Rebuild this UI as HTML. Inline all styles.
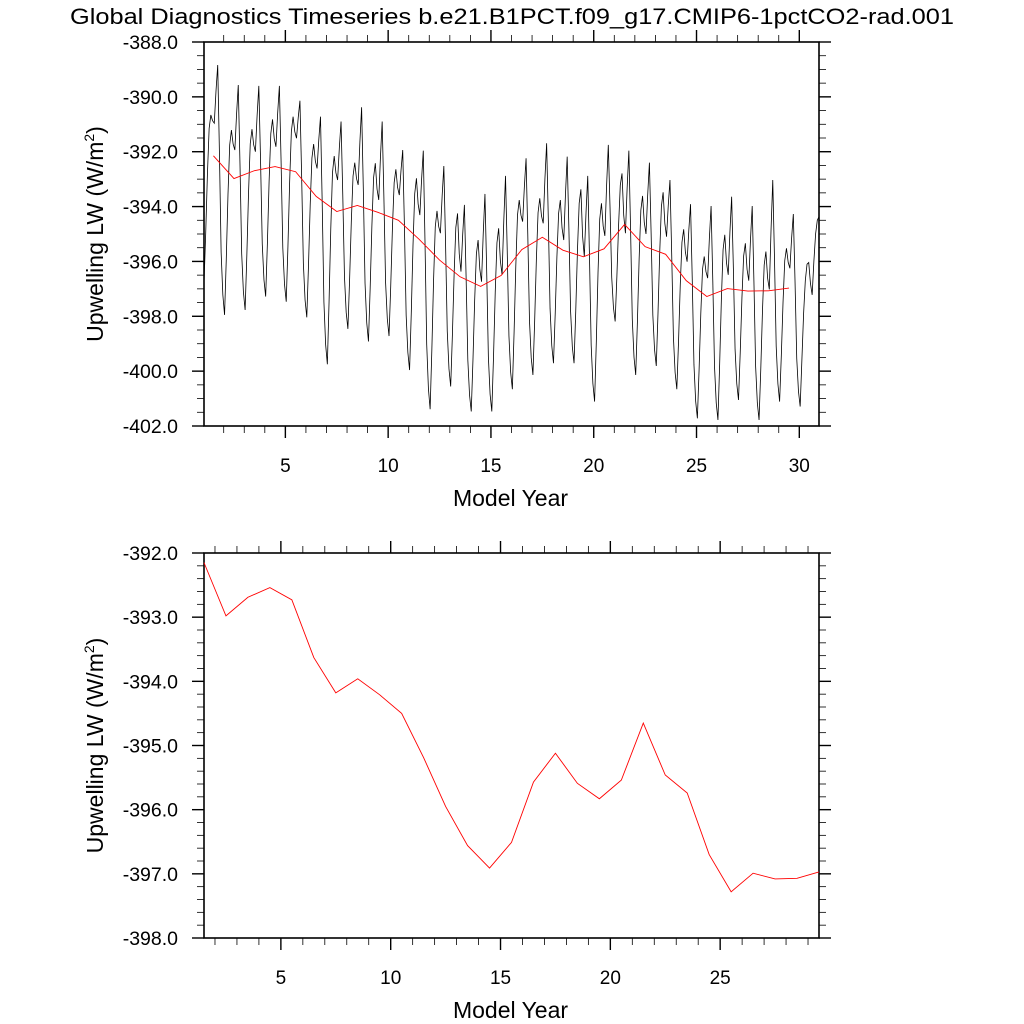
<!DOCTYPE html>
<html><head><meta charset="utf-8"><style>
html,body{margin:0;padding:0;background:#fff;}
svg{display:block;font-family:"Liberation Sans",sans-serif;}
</style></head><body>
<svg id="chart" width="1024" height="1024" viewBox="0 0 1024 1024" xmlns="http://www.w3.org/2000/svg">
<rect width="1024" height="1024" fill="#fff"/>
<text x="512" y="24" font-size="22" text-anchor="middle" textLength="884" lengthAdjust="spacingAndGlyphs">Global Diagnostics Timeseries b.e21.B1PCT.f09_g17.CMIP6-1pctCO2-rad.001</text>
<g id="top"></g>
<g id="bot"></g>
</svg>
<script>
// Monthly global-mean upwelling LW (W/m2), years 1..30
const monthlyLW = [
-396.80,-394.96,-392.81,-391.15,-390.66,-390.87,-390.96,-389.79,-388.84,-392.03,-395.67,-397.22,
-397.95,-395.93,-393.57,-391.75,-391.21,-391.72,-391.94,-390.64,-389.57,-392.44,-395.72,-397.11,
-397.77,-395.79,-393.49,-391.71,-391.18,-391.75,-392.00,-390.68,-389.60,-392.29,-395.36,-396.67,
-397.28,-395.34,-393.08,-391.34,-390.82,-391.52,-391.82,-390.60,-389.60,-392.36,-395.50,-396.84,
-397.47,-395.45,-393.08,-391.26,-390.72,-391.27,-391.51,-390.76,-390.14,-392.91,-396.07,-397.41,
-398.04,-396.14,-393.93,-392.23,-391.72,-392.34,-392.61,-391.57,-390.72,-393.88,-397.49,-399.03,
-399.75,-397.47,-394.82,-392.77,-392.16,-392.77,-393.03,-391.86,-390.90,-393.55,-396.57,-397.86,
-398.46,-396.64,-394.52,-392.89,-392.40,-392.97,-393.21,-391.65,-390.38,-393.37,-396.79,-398.24,
-398.92,-396.97,-394.70,-392.94,-392.42,-393.36,-393.76,-392.19,-390.90,-393.64,-396.77,-398.09,
-398.72,-396.90,-394.77,-393.13,-392.64,-393.30,-393.58,-392.68,-391.94,-394.75,-397.96,-399.32,
-399.96,-397.86,-395.42,-393.53,-392.97,-393.91,-394.31,-393.02,-391.96,-395.26,-399.03,-400.64,
-401.39,-399.22,-396.69,-394.74,-394.16,-394.73,-394.97,-393.62,-392.52,-395.33,-398.55,-399.92,
-400.56,-398.67,-396.46,-394.76,-394.25,-395.73,-396.37,-395.03,-393.94,-396.58,-399.59,-400.87,
-401.47,-399.60,-397.41,-395.72,-395.22,-396.28,-396.74,-394.98,-393.54,-396.32,-399.49,-400.84,
-401.47,-399.47,-397.13,-395.32,-394.79,-395.98,-396.49,-394.50,-392.88,-395.60,-398.72,-400.04,
-400.66,-398.59,-396.18,-394.31,-393.76,-394.31,-394.55,-393.28,-392.24,-395.01,-398.17,-399.51,
-400.14,-398.21,-395.95,-394.22,-393.70,-394.34,-394.61,-393.00,-391.69,-394.50,-397.71,-399.07,
-399.71,-397.93,-395.84,-394.24,-393.76,-394.78,-395.22,-393.55,-392.18,-394.82,-397.83,-399.11,
-399.71,-397.81,-395.59,-393.88,-393.37,-395.09,-395.83,-394.21,-392.88,-395.76,-399.05,-400.45,
-401.11,-398.94,-396.41,-394.46,-393.88,-394.71,-395.07,-393.24,-391.75,-394.00,-396.58,-397.68,
-398.19,-396.57,-394.68,-393.22,-392.79,-394.32,-394.97,-393.32,-391.96,-394.82,-398.10,-399.49,
-400.14,-398.18,-395.90,-394.13,-393.61,-394.58,-395.00,-393.57,-392.40,-394.99,-397.96,-399.22,
-399.81,-397.91,-395.70,-393.99,-393.48,-394.61,-395.10,-393.96,-393.03,-395.70,-398.75,-400.05,
-400.66,-398.91,-396.87,-395.30,-394.83,-395.66,-396.01,-394.86,-393.91,-396.64,-399.77,-401.10,
-401.72,-399.95,-397.89,-396.29,-395.82,-396.37,-396.61,-395.16,-393.98,-396.71,-399.83,-401.16,
-401.78,-399.76,-397.39,-395.57,-395.03,-396.05,-396.49,-394.92,-393.64,-396.23,-399.20,-400.46,
-401.05,-399.34,-397.34,-395.80,-395.34,-396.29,-396.70,-395.20,-393.98,-396.71,-399.83,-401.16,
-401.78,-399.94,-397.79,-396.13,-395.64,-396.61,-397.02,-394.83,-393.03,-395.86,-399.09,-400.46,
-401.11,-399.43,-397.48,-395.97,-395.52,-396.03,-396.25,-395.16,-394.27,-396.73,-399.54,-400.73,
-401.29,-399.60,-397.90,-396.70,-396.10,-396.04,-396.80,-397.22,-396.00,-395.00,-394.50,-394.37
];
// Annual means
const annualLW = [-392.15,-392.98,-392.69,-392.54,-392.73,-393.63,-394.18,-393.96,-394.21,-394.50,
-395.19,-395.95,-396.56,-396.91,-396.51,-395.57,-395.12,-395.59,-395.83,-395.54,
-394.65,-395.46,-395.74,-396.70,-397.28,-396.99,-397.08,-397.07,-396.97];
const xTickLabels = [5,10,15,20,25,30];
const topYTicks = [-388,-390,-392,-394,-396,-398,-400,-402];
const botYTicks = [-392,-393,-394,-395,-396,-397,-398];

const NS='http://www.w3.org/2000/svg';
function mk(parent, tag, attrs){const e=document.createElementNS(NS,tag);for(const k in attrs)e.setAttribute(k,attrs[k]);parent.appendChild(e);return e;}

function panel(g, cfg){
  const {x0,x1,y0,y1,xmin,xmax,ymin,ymax,yTicks,yMinor,xMaxLabel} = cfg;
  const sx = v => x0 + (v - xmin) / (xmax - xmin) * (x1 - x0);
  const sy = v => y1 - (v - ymin) / (ymax - ymin) * (y1 - y0);
  const ax = mk(g,'g',{stroke:'#000','stroke-width':1.2,fill:'none'});
  
  
  mk(ax,'rect',{x:x0,y:y0,width:x1-x0,height:y1-y0,'stroke-width':1.6});
  // x ticks
  for(let yr=Math.ceil(xmin); yr<=xmax; yr++){
    const X=sx(yr); const major = yr%5===0; const L = major?12:7;
    mk(ax,'line',{x1:X,x2:X,y1:y1,y2:y1+L,'stroke-width':major?1.4:0.8});
    mk(ax,'line',{x1:X,x2:X,y1:y0,y2:y0-L,'stroke-width':major?1.4:0.8});
  }
  xTickLabels.forEach(v=>{
    if(v>xMaxLabel) return;
    const t=mk(g,'text',{x:sx(v),y:y1+46,'font-size':19,'text-anchor':'middle'});
    
    
    t.textContent=String(v);
  });
  // y ticks
  const nMin = Math.round((ymax-ymin)/yMinor);
  for(let i=0;i<=nMin;i++){
    const v=ymin+i*yMinor; const Y=sy(v);
    const major = yTicks.some(t=>Math.abs(t-v)<1e-6); const L=major?12:7;
    mk(ax,'line',{x1:x0,x2:x0-L,y1:Y,y2:Y,'stroke-width':major?1.4:0.8});
    mk(ax,'line',{x1:x1,x2:x1+L,y1:Y,y2:Y,'stroke-width':major?1.4:0.8});
  }
  yTicks.forEach(v=>{
    const t=mk(g,'text',{x:x0-26,y:sy(v)+7,'font-size':19.5,'text-anchor':'end'});
    
    
    t.textContent=v.toFixed(1);
  });
  const xt=mk(g,'text',{x:(x0+x1)/2-1,y:y1+80,'font-size':23,'text-anchor':'middle'});
  
  
  xt.textContent='Model Year';
  const cy=(y0+y1)/2;
  const yt=mk(g,'text',{x:0,y:0,'font-size':23,'text-anchor':'middle',transform:`translate(103 ${cy}) rotate(-90)`});
  
  
  yt.appendChild(document.createTextNode('Upwelling LW (W/m'));
  const sup=mk(yt,'tspan',{'font-size':14,dy:-9}); sup.textContent='2';
  const cl=mk(yt,'tspan',{dy:9}); cl.textContent=')';
  return {sx,sy};
}

const topG=document.getElementById('top');
const tp=panel(topG,{x0:204,x1:819,y0:42,y1:426,xmin:1.042,xmax:30.958,ymin:-402,ymax:-388,yTicks:topYTicks,yMinor:0.5,xMaxLabel:30});
let pts=monthlyLW.map((v,i)=>tp.sx(1.042+i/12).toFixed(2)+','+tp.sy(v).toFixed(2)).join(' ');
const ml=mk(topG,'polyline',{points:pts,fill:'none',stroke:'#000','stroke-width':0.8});


pts=annualLW.map((v,i)=>tp.sx(1.5+i).toFixed(2)+','+tp.sy(v).toFixed(2)).join(' ');
const al=mk(topG,'polyline',{points:pts,fill:'none',stroke:'#ff0000','stroke-width':0.9});



const botG=document.getElementById('bot');
const bp=panel(botG,{x0:204,x1:819,y0:553,y1:938,xmin:1.5,xmax:29.5,ymin:-398,ymax:-392,yTicks:botYTicks,yMinor:0.2,xMaxLabel:29});
pts=annualLW.map((v,i)=>bp.sx(1.5+i).toFixed(2)+','+bp.sy(v).toFixed(2)).join(' ');
const bl=mk(botG,'polyline',{points:pts,fill:'none',stroke:'#ff0000','stroke-width':0.9});


</script>
</body></html>
